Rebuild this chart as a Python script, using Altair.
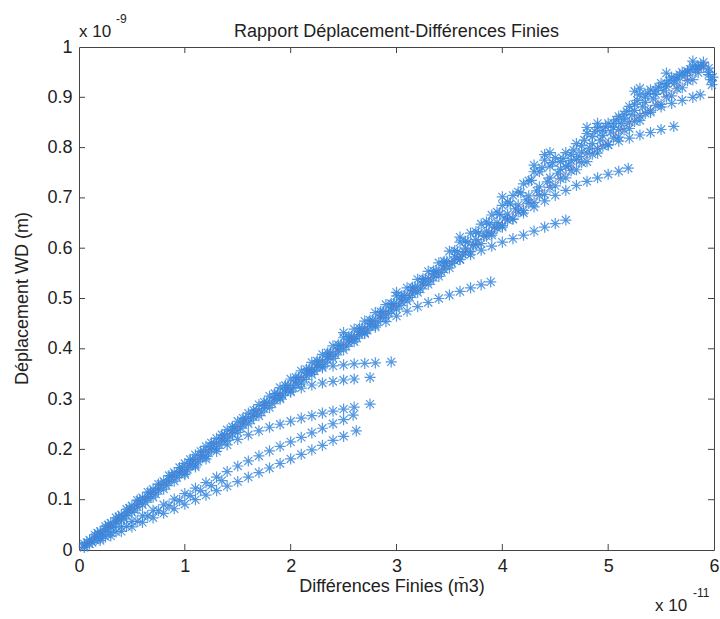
import altair as alt
import pandas as pd

# ---------------- data (x in units of 1e-11 m3, y in units of 1e-9 m) ----------------
main_up_x = [0.1, 0.2, 0.3, 0.4, 0.5, 0.6, 0.7, 0.8, 0.9, 1.0, 1.1, 1.2, 1.3, 1.4, 1.5, 1.6, 1.7, 1.8, 1.9, 2.0,
             2.1, 2.2, 2.3, 2.4, 2.5, 2.6, 2.7, 2.8, 2.9, 3.0, 3.1, 3.2, 3.3, 3.4, 3.5, 3.6, 3.7, 3.8, 3.9, 4.0,
             4.1, 4.2, 4.3, 4.4, 4.5, 4.6, 4.7, 4.8, 4.9, 5.0, 5.1, 5.2, 5.3, 5.4, 5.5, 5.6, 5.7, 5.8, 5.9, 5.95, 5.97]
main_up_y = [0.020, 0.037, 0.054, 0.070, 0.088, 0.104, 0.121, 0.137, 0.154, 0.172, 0.189, 0.206, 0.222, 0.239,
             0.256, 0.272, 0.289, 0.306, 0.323, 0.340, 0.356, 0.373, 0.389, 0.406, 0.422, 0.439, 0.455, 0.472,
             0.488, 0.505, 0.521, 0.538, 0.554, 0.571, 0.594, 0.612, 0.630, 0.648, 0.666, 0.685, 0.705, 0.728,
             0.752, 0.775, 0.780, 0.790, 0.808, 0.828, 0.840, 0.848, 0.862, 0.882, 0.905, 0.915, 0.928, 0.940,
             0.950, 0.962, 0.962, 0.950, 0.935]

main_s_x = [0.075, 0.175, 0.275, 0.375, 0.475, 0.575, 0.675, 0.775, 0.875, 0.975, 1.075, 1.175, 1.275, 1.375,
            1.475, 1.575, 1.675, 1.775, 1.875, 1.975, 2.075, 2.175, 2.275, 2.375, 2.475, 2.575, 2.675, 2.775,
            2.875, 2.975, 3.075, 3.175, 3.275, 3.375, 3.475, 3.575, 3.675, 3.775, 3.875, 3.975, 4.075, 4.175,
            4.275, 4.375, 4.475, 4.575, 4.675, 4.775, 4.875, 4.975, 5.075, 5.175, 5.275, 5.375, 5.475, 5.575,
            5.675, 5.775, 5.875]
main_s_y = [0.015, 0.034, 0.050, 0.066, 0.083, 0.099, 0.115, 0.131, 0.148, 0.164, 0.180, 0.197, 0.213, 0.229,
            0.245, 0.262, 0.278, 0.294, 0.311, 0.327, 0.343, 0.360, 0.376, 0.392, 0.408, 0.425, 0.441, 0.457,
            0.474, 0.490, 0.506, 0.523, 0.539, 0.555, 0.574, 0.593, 0.612, 0.630, 0.648, 0.667, 0.688, 0.710,
            0.735, 0.760, 0.770, 0.778, 0.795, 0.815, 0.832, 0.842, 0.855, 0.872, 0.894, 0.908, 0.920, 0.933,
            0.945, 0.956, 0.963]

main_q_x = [0.05, 0.15, 0.25, 0.35, 0.45, 0.55, 0.65, 0.75, 0.85, 0.95, 1.05, 1.15, 1.25, 1.35, 1.45, 1.55,
            1.65, 1.75, 1.85, 1.95, 2.05, 2.15, 2.25, 2.35, 2.45, 2.55, 2.65, 2.75, 2.85, 2.95, 3.05, 3.15,
            3.25, 3.35, 3.45, 3.55, 3.65, 3.75, 3.85, 3.95, 4.05, 4.15, 4.25, 4.35, 4.45, 4.55, 4.65, 4.75,
            4.85, 4.95, 5.05, 5.15, 5.25, 5.35, 5.45, 5.55, 5.65, 5.75, 5.85, 5.95]
main_q_y = [0.012, 0.030, 0.047, 0.064, 0.081, 0.099, 0.115, 0.131, 0.148, 0.164, 0.180, 0.196, 0.213, 0.229,
            0.245, 0.262, 0.278, 0.294, 0.311, 0.327, 0.343, 0.359, 0.376, 0.392, 0.408, 0.425, 0.441, 0.457,
            0.474, 0.490, 0.506, 0.522, 0.539, 0.555, 0.574, 0.595, 0.614, 0.633, 0.652, 0.672, 0.692, 0.712,
            0.734, 0.752, 0.763, 0.772, 0.786, 0.804, 0.822, 0.834, 0.848, 0.866, 0.886, 0.901, 0.914, 0.927,
            0.940, 0.952, 0.962, 0.958]

main_mid_x = [0.05, 0.15, 0.25, 0.35, 0.45, 0.55, 0.65, 0.75, 0.85, 0.95, 1.05, 1.15, 1.25, 1.35, 1.45, 1.55,
              1.65, 1.75, 1.85, 1.95, 2.05, 2.15, 2.25, 2.35, 2.45, 2.55, 2.65, 2.75, 2.85, 2.95, 3.05, 3.15,
              3.25, 3.35, 3.45, 3.55, 3.65, 3.75, 3.85, 3.95, 4.05, 4.15, 4.25, 4.35, 4.45, 4.55, 4.65, 4.75,
              4.85, 4.95, 5.05, 5.15, 5.25, 5.35, 5.45, 5.55, 5.65, 5.75, 5.85, 5.95]
main_mid_y = [0.008, 0.025, 0.042, 0.057, 0.074, 0.091, 0.106, 0.123, 0.140, 0.156, 0.172, 0.188, 0.205, 0.221,
              0.238, 0.254, 0.270, 0.287, 0.303, 0.320, 0.336, 0.352, 0.369, 0.385, 0.401, 0.418, 0.434, 0.450,
              0.467, 0.483, 0.499, 0.516, 0.533, 0.549, 0.566, 0.583, 0.600, 0.617, 0.634, 0.651, 0.668, 0.686,
              0.704, 0.722, 0.740, 0.757, 0.774, 0.791, 0.808, 0.824, 0.840, 0.857, 0.874, 0.890, 0.906, 0.921,
              0.936, 0.950, 0.958, 0.945]

main_t_x = [0.125, 0.225, 0.325, 0.425, 0.525, 0.625, 0.725, 0.825, 0.925, 1.025, 1.125, 1.225, 1.325, 1.425,
            1.525, 1.625, 1.725, 1.825, 1.925, 2.025, 2.125, 2.225, 2.325, 2.425, 2.525, 2.625, 2.725, 2.825,
            2.925, 3.025, 3.125, 3.225, 3.325, 3.425, 3.525, 3.625, 3.725, 3.825, 3.925, 4.025, 4.125, 4.225,
            4.325, 4.425, 4.525, 4.625, 4.725, 4.825, 4.925, 5.025, 5.125, 5.225, 5.325, 5.425, 5.525, 5.625,
            5.725, 5.825]
main_t_y = [0.015, 0.031, 0.046, 0.062, 0.079, 0.095, 0.111, 0.128, 0.144, 0.160, 0.176, 0.193, 0.209, 0.225,
            0.242, 0.258, 0.274, 0.291, 0.307, 0.323, 0.339, 0.356, 0.372, 0.388, 0.405, 0.421, 0.437, 0.454,
            0.470, 0.486, 0.502, 0.519, 0.535, 0.552, 0.570, 0.588, 0.606, 0.624, 0.642, 0.660, 0.678, 0.696,
            0.714, 0.732, 0.749, 0.765, 0.782, 0.799, 0.815, 0.831, 0.848, 0.865, 0.881, 0.897, 0.913, 0.928,
            0.943, 0.955]

main_r_x = [0.05, 0.15, 0.25, 0.35, 0.45, 0.55, 0.65, 0.75, 0.85, 0.95, 1.05, 1.15, 1.25, 1.35, 1.45, 1.55,
            1.65, 1.75, 1.85, 1.95, 2.05, 2.15, 2.25, 2.35, 2.45, 2.55, 2.65, 2.75, 2.85, 2.95, 3.05, 3.15,
            3.25, 3.35, 3.45, 3.55, 3.65, 3.75, 3.85, 3.95, 4.05, 4.15, 4.25, 4.35, 4.45, 4.55, 4.65, 4.75,
            4.85, 4.95, 5.05, 5.15, 5.25, 5.35, 5.45, 5.55, 5.65, 5.75, 5.85]
main_r_y = [0.005, 0.020, 0.037, 0.053, 0.069, 0.086, 0.102, 0.118, 0.135, 0.151, 0.167, 0.183, 0.200, 0.216,
            0.232, 0.249, 0.265, 0.281, 0.298, 0.314, 0.330, 0.346, 0.363, 0.379, 0.395, 0.412, 0.428, 0.444,
            0.461, 0.477, 0.493, 0.509, 0.526, 0.542, 0.558, 0.575, 0.591, 0.607, 0.624, 0.640, 0.656, 0.672,
            0.689, 0.705, 0.721, 0.738, 0.754, 0.770, 0.787, 0.803, 0.819, 0.835, 0.852, 0.868, 0.884, 0.901,
            0.917, 0.933, 0.949]

main_low_x = [0.1, 0.2, 0.3, 0.4, 0.5, 0.6, 0.7, 0.8, 0.9, 1.0, 1.1, 1.2, 1.3, 1.4, 1.5, 1.6, 1.7, 1.8, 1.9, 2.0,
              2.1, 2.2, 2.3, 2.4, 2.5, 2.6, 2.7, 2.8, 2.9, 3.0, 3.1, 3.2, 3.3, 3.4, 3.5, 3.6, 3.7, 3.8, 3.9, 4.0,
              4.1, 4.2, 4.3, 4.4, 4.5, 4.6, 4.7, 4.8, 4.9, 5.0, 5.1, 5.2, 5.3, 5.4, 5.5, 5.6, 5.7, 5.8]
main_low_y = [0.012, 0.030, 0.045, 0.060, 0.075, 0.090, 0.105, 0.121, 0.137, 0.153, 0.169, 0.186, 0.202, 0.218,
              0.234, 0.251, 0.267, 0.283, 0.300, 0.316, 0.332, 0.349, 0.365, 0.381, 0.398, 0.414, 0.430, 0.446,
              0.463, 0.479, 0.495, 0.512, 0.528, 0.544, 0.561, 0.577, 0.593, 0.609, 0.626, 0.642, 0.658, 0.675,
              0.691, 0.707, 0.724, 0.740, 0.756, 0.772, 0.789, 0.805, 0.821, 0.838, 0.854, 0.870, 0.886, 0.903,
              0.919, 0.935]

crest_x = [2.5, 3.0, 3.6, 4.0, 4.3, 4.4, 4.45, 4.8, 4.9, 5.25, 5.3, 5.55, 5.8, 5.9, 5.98, 5.99]
crest_y = [0.432, 0.512, 0.622, 0.702, 0.765, 0.786, 0.790, 0.840, 0.848, 0.912, 0.918, 0.948, 0.972, 0.970,
           0.925, 0.940]

br_a_x = [0.2, 0.3, 0.4, 0.5, 0.6, 0.7, 0.8, 0.9, 1.0, 1.1, 1.2, 1.3, 1.4, 1.5, 1.6, 1.7, 1.8, 1.9, 2.0, 2.1,
          2.2, 2.3, 2.4, 2.5, 2.62]
br_a_y = [0.019, 0.028, 0.037, 0.046, 0.055, 0.064, 0.073, 0.082, 0.091, 0.100, 0.109, 0.118, 0.127, 0.136,
          0.145, 0.154, 0.163, 0.172, 0.181, 0.190, 0.199, 0.208, 0.218, 0.226, 0.237]

br_b_x = [0.2, 0.3, 0.4, 0.5, 0.6, 0.7, 0.8, 0.9, 1.0, 1.1, 1.2, 1.3, 1.4, 1.5, 1.6, 1.7, 1.8, 1.9, 2.0, 2.1,
          2.2, 2.3, 2.4, 2.5, 2.59]
br_b_y = [0.023, 0.034, 0.046, 0.057, 0.068, 0.079, 0.090, 0.101, 0.112, 0.123, 0.134, 0.145, 0.156, 0.167,
          0.177, 0.187, 0.197, 0.206, 0.215, 0.224, 0.233, 0.242, 0.251, 0.259, 0.268]

br_ab_x = [0.25, 0.35, 0.45, 0.55, 0.65, 0.75, 0.85, 0.95, 1.05, 1.15, 1.25, 1.35]
br_ab_y = [0.026, 0.036, 0.047, 0.057, 0.068, 0.078, 0.088, 0.098, 0.108, 0.118, 0.128, 0.138]

br_c_x = [1.0, 1.1, 1.2, 1.3, 1.4, 1.5, 1.6, 1.7, 1.8, 1.9, 2.0, 2.1, 2.2, 2.3, 2.4, 2.5, 2.6, 2.75]
br_c_y = [0.150, 0.165, 0.181, 0.196, 0.209, 0.220, 0.229, 0.237, 0.244, 0.250, 0.256, 0.262, 0.267, 0.272,
          0.276, 0.280, 0.284, 0.290]

br_d_x = [1.9, 2.0, 2.1, 2.2, 2.3, 2.4, 2.5, 2.6, 2.75]
br_d_y = [0.303, 0.314, 0.322, 0.328, 0.332, 0.335, 0.338, 0.340, 0.343]

br_e_x = [2.2, 2.3, 2.4, 2.5, 2.6, 2.7, 2.8, 2.95]
br_e_y = [0.356, 0.362, 0.366, 0.368, 0.370, 0.371, 0.372, 0.374]

br_f_x = [2.6, 2.7, 2.8, 2.9, 3.0, 3.1, 3.2, 3.3, 3.4, 3.5, 3.6, 3.7, 3.8, 3.89]
br_f_y = [0.420, 0.432, 0.443, 0.454, 0.465, 0.475, 0.484, 0.492, 0.500, 0.507, 0.514, 0.521, 0.527, 0.533]

br_g_x = [3.6, 3.7, 3.8, 3.9, 4.0, 4.1, 4.2, 4.3, 4.4, 4.5, 4.6]
br_g_y = [0.578, 0.587, 0.596, 0.604, 0.612, 0.619, 0.626, 0.634, 0.642, 0.649, 0.656]

br_h_x = [3.9, 4.0, 4.1, 4.2, 4.3, 4.4, 4.5, 4.6, 4.7, 4.8, 4.9, 5.0, 5.1, 5.19]
br_h_y = [0.630, 0.645, 0.658, 0.670, 0.682, 0.694, 0.705, 0.715, 0.725, 0.733, 0.740, 0.747, 0.753, 0.759]

br_i_x = [4.6, 4.7, 4.8, 4.9, 5.0, 5.1, 5.2, 5.3, 5.4, 5.5, 5.62]
br_i_y = [0.762, 0.776, 0.789, 0.798, 0.806, 0.813, 0.819, 0.825, 0.830, 0.836, 0.842]

br_j_x = [5.1, 5.2, 5.3, 5.4, 5.5, 5.6, 5.7, 5.8, 5.87]
br_j_y = [0.836, 0.851, 0.863, 0.873, 0.881, 0.888, 0.894, 0.900, 0.905]

fit_x = [0.0, 5.95]
fit_y = [0.0, 0.970]

x_tick_values = [0, 1, 2, 3, 4, 5, 6]
x_inner_ticks = [1, 2, 3, 4, 5]
y_tick_values = [0, 0.1, 0.2, 0.3, 0.4, 0.5, 0.6, 0.7, 0.8, 0.9, 1]
y_inner_ticks = [0.1, 0.2, 0.3, 0.4, 0.5, 0.6, 0.7, 0.8, 0.9]

title_text = "Rapport Déplacement-Différences Finies"
x_title = "Différences Finies (m\u03043)"
y_title = "Déplacement WD (m)"

# ---------------- build table ----------------
series = [
    ("up", main_up_x, main_up_y), ("s", main_s_x, main_s_y), ("q", main_q_x, main_q_y),
    ("mid", main_mid_x, main_mid_y), ("t", main_t_x, main_t_y), ("r", main_r_x, main_r_y),
    ("low", main_low_x, main_low_y), ("crest", crest_x, crest_y),
    ("a", br_a_x, br_a_y), ("b", br_b_x, br_b_y), ("ab", br_ab_x, br_ab_y), ("c", br_c_x, br_c_y),
    ("d", br_d_x, br_d_y), ("e", br_e_x, br_e_y), ("f", br_f_x, br_f_y), ("g", br_g_x, br_g_y),
    ("h", br_h_x, br_h_y), ("i", br_i_x, br_i_y), ("j", br_j_x, br_j_y),
]
rows = []
for name, xs, ys in series:
    for xv, yv in zip(xs, ys):
        rows.append({"series": name, "x": xv, "y": yv})
df = pd.DataFrame(rows)
fit_df = pd.DataFrame({"x": fit_x, "y": fit_y})

W, H = 635, 503
FONT = "Liberation Sans"
BLUE = "#3888dd"
xs_ = alt.Scale(domain=[0, 6], nice=False, zero=False)
ys_ = alt.Scale(domain=[0, 1], nice=False, zero=False)
star = "M-1,0L1,0M0,-1L0,1M-0.72,-0.72L0.72,0.72M-0.72,0.72L0.72,-0.72"

x_axis = alt.Axis(values=x_tick_values, format="d", title=None, grid=False, domain=False, ticks=False,
                  labelFont=FONT, labelFontSize=18, labelColor="#222", labelPadding=7,
                  labelFlush=False, labelOverlap=False)
y_axis = alt.Axis(values=y_tick_values, format=".1~f", title=None, grid=False, domain=False, ticks=False,
                  labelFont=FONT, labelFontSize=18, labelColor="#222", labelPadding=7,
                  labelFlush=False, labelOverlap=False)

points = alt.Chart(df).mark_point(
    shape=star, filled=False, size=125, strokeWidth=1.2, color=BLUE, opacity=0.85
).encode(
    x=alt.X("x:Q", scale=xs_, axis=x_axis),
    y=alt.Y("y:Q", scale=ys_, axis=y_axis),
)

fit = alt.Chart(fit_df).mark_line(
    color="#b8507e", strokeWidth=1, strokeDash=[5, 4], opacity=0.75
).encode(x=alt.X("x:Q", scale=xs_), y=alt.Y("y:Q", scale=ys_))

xt_df = pd.DataFrame({"x": x_inner_ticks})
yt_df = pd.DataFrame({"y": y_inner_ticks})
tick_style = dict(color="#444", strokeWidth=1)
tb = alt.Chart(xt_df).mark_rule(**tick_style).encode(x=alt.X("x:Q", scale=xs_), y=alt.value(H), y2=alt.value(H - 6))
tt = alt.Chart(xt_df).mark_rule(**tick_style).encode(x=alt.X("x:Q", scale=xs_), y=alt.value(0), y2=alt.value(6))
tl = alt.Chart(yt_df).mark_rule(**tick_style).encode(y=alt.Y("y:Q", scale=ys_), x=alt.value(0), x2=alt.value(6))
tr = alt.Chart(yt_df).mark_rule(**tick_style).encode(y=alt.Y("y:Q", scale=ys_), x=alt.value(W), x2=alt.value(W - 6))


def txt(s, x, y, size=18, align="center", angle=0, baseline="middle"):
    kw = dict(font=FONT, fontSize=size, color="#222", align=align, baseline=baseline)
    if angle:
        kw["angle"] = angle
    return alt.Chart(pd.DataFrame({"t": [s]})).mark_text(**kw).encode(
        text="t:N", x=alt.value(x), y=alt.value(y))


texts = [
    txt(title_text, W / 2, -15, size=18),
    txt(x_title, 313, 37 + H, size=18),
    txt(y_title, -56, H / 2, size=18, angle=270),
    txt("x 10", 0, -15, size=17, align="left"),
    txt("-9", 37, -28, size=12, align="left"),
    txt("x 10", 576, 56 + H, size=17, align="left"),
    txt("-11", 614, 43 + H, size=12, align="left"),
]

chart = alt.layer(points, fit, tb, tt, tl, tr, *texts).properties(
    width=W, height=H,
    padding={"left": 79, "top": 47, "right": 6, "bottom": 69},
    autosize=alt.AutoSizeParams(type="none"),
    background="white",
).configure_view(stroke="#444", strokeWidth=1)

chart.save("out.html", embed_options={"renderer": "svg", "actions": False})
